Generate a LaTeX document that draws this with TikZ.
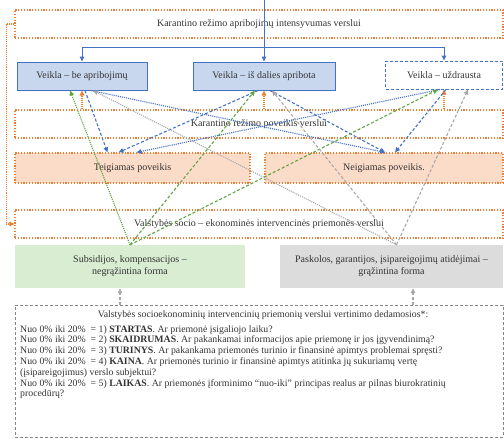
\documentclass[tikz,border=0pt]{standalone}
\usepackage{fontspec}
\setmainfont{Liberation Serif}
\usetikzlibrary{arrows.meta}

\definecolor{bline}{HTML}{4472C4}
\definecolor{bfill}{HTML}{C9D7EE}
\definecolor{oline}{HTML}{ED7D31}
\definecolor{ofill}{HTML}{FBDCC8}
\definecolor{gline}{HTML}{5FA640}
\definecolor{gfill}{HTML}{D9EDD3}
\definecolor{kline}{HTML}{A8A8A8}
\definecolor{kfill}{HTML}{DCDCDC}
\definecolor{txt}{HTML}{333333}

\tikzset{
  frame/.style={draw=oline, text=txt, line width=1.2pt, dash pattern=on 1.2pt off 1.6pt, minimum height=28pt, inner sep=0pt},
  impact/.style={frame, fill=ofill, minimum height=30pt},
  veikla/.style={draw=bline, text=txt, fill=bfill, line width=1pt, minimum height=28pt, inner sep=0pt},
  form/.style={text=txt, minimum height=43pt, inner sep=0pt, align=center},
  blink/.style={draw=bline, line width=1pt},
  barrow/.style={draw=bline, line width=1.1pt, ->},
  garrow/.style={draw=gline, line width=1.1pt, ->},
  karrow/.style={draw=kline, line width=1.1pt, ->},
  oarrow/.style={draw=oline, line width=1.1pt, densely dotted, ->},
  bdash/.style={dash pattern=on 3pt off 2pt},
}

\begin{document}
\begin{tikzpicture}[x=1pt, y=-1pt, font=\fontsize{10}{12}\selectfont,
  >={Triangle[length=5pt,width=4.5pt]}]
\useasboundingbox (0,0) rectangle (504,439);

% boxes
\node[frame, minimum width=488pt] (top) at (259,24) {Karantino režimo apribojimų intensyvumas verslui};
\node[veikla, minimum width=130pt] (be) at (82,76) {Veikla – be apribojimų};
\node[veikla, minimum width=142pt] (dalies) at (264,76) {Veikla – iš dalies apribota};
\node[draw=bline, text=txt, line width=1pt, bdash, minimum height=28pt, minimum width=117pt, inner sep=0pt] (uzdr) at (444,75) {Veikla – uždrausta};
\node[frame, minimum width=488pt] (poveik) at (259,124) {Karantino režimo poveikis verslui};
\node[impact, minimum width=235pt] (teig) at (132.5,168) {Teigiamas poveikis};
\node[impact, minimum width=238pt] (neig) at (384,168) {Neigiamas poveikis.};
\node[frame, minimum width=488pt] (valst) at (259,224) {Valstybės socio – ekonominės intervencinės priemonės verslui};
\node[form, fill=gfill, minimum width=230pt] (subs) at (130,266.5) {Subsidijos, kompensacijos –\\negrąžintina forma};
\node[form, fill=kfill, minimum width=223pt] (pask) at (391.5,266.5) {Paskolos, garantijos, įsipareigojimų atidėjimai –\\grąžintina forma};
\node[draw=kline!80!black, line width=0.8pt, dash pattern=on 3pt off 2pt, minimum width=488pt, minimum height=132pt, inner sep=0pt] (vert) at (259,371) {};
\node[text=txt, font=\fontsize{9.8}{10.8}\selectfont] (vhead) at (263,315) {Valstybės socioekonominių intervencinių priemonių verslui vertinimo dedamosios*:};
\node[text=txt, font=\fontsize{9.8}{10.8}\selectfont, anchor=north west, align=left, inner sep=0pt] (vlist) at (20,325) {%
Nuo 0\% iki 20\%\ \ = 1) \textbf{STARTAS}. Ar priemonė įsigaliojo laiku?\\
Nuo 0\% iki 20\%\ \ = 2) \textbf{SKAIDRUMAS}. Ar pakankamai informacijos apie priemonę ir jos įgyvendinimą?\\
Nuo 0\% iki 20\%\ \ = 3) \textbf{TURINYS}. Ar pakankama priemonės turinio ir finansinė apimtys problemai spręsti?\\
Nuo 0\% iki 20\%\ \ = 4) \textbf{KAINA}. Ar priemonės turinio ir finansinė apimtys atitinka jų sukuriamų vertę\\
(įsipareigojimus) verslo subjektui?\\
Nuo 0\% iki 20\%\ \ = 5) \textbf{LAIKAS}. Ar priemonės įforminimo “nuo-iki” principas realus ar pilnas biurokratinių\\
procedūrų?};

% blue feed from above
\coordinate (in) at (264,0);
\coordinate (bus) at (264,47);
\draw[blink] (in) -- (bus);
\draw[blink] (bus -| be.north) -- (bus -| uzdr.north);
\foreach \n in {be,dalies,uzdr}
\draw[blink,->] (bus -| \n.north) -- (\n.north);

% left loop
\draw[oarrow] (top.west) -- ++(-8,0) |- (valst.west);

% impact back to activity
\foreach \n in {be,dalies,uzdr}
\draw[oarrow] (poveik.north -| \n.south) -- (\n.south);

% activity to impact
\foreach \n/\so/\t/\to/\s in {be/3/teig/-25/bdash, be/9/neig/1/densely dotted, dalies/-6/teig/-14/bdash, dalies/6/neig/1/bdash, uzdr/-4/teig/4/densely dotted, uzdr/2/neig/11/bdash}
\draw[barrow,\s] ([xshift=\so pt]\n.south) -- ([xshift=\to pt]\t.north);

% measures to activity
\foreach \n/\o/\s in {be/-12/densely dotted, dalies/-9/bdash, uzdr/-6/bdash}
\draw[garrow,\s] (subs.north) -- ([xshift=\o pt]\n.south);
\foreach \n/\o/\s in {be/11/densely dotted, dalies/8/bdash, uzdr/24/bdash}
\draw[karrow,\s] ([xshift=5pt]pask.north) -- ([xshift=\o pt]\n.south);

% evaluation to measures
\coordinate (s1) at ([xshift=-10pt]subs.south);
\coordinate (s2) at ([xshift=21.5pt]pask.south);
\draw[karrow,bdash] (vert.north -| s1) -- (s1);
\draw[karrow,bdash] (vert.north -| s2) -- (s2);
\end{tikzpicture}
\end{document}
